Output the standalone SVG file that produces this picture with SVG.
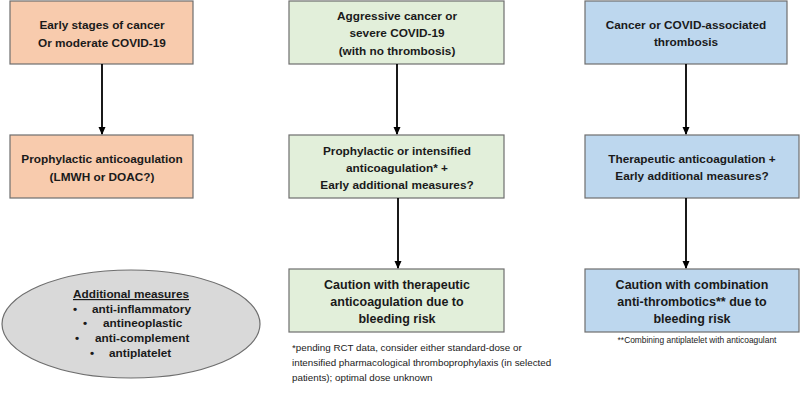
<svg xmlns="http://www.w3.org/2000/svg" width="800" height="406" viewBox="0 0 800 406">
<defs>
<marker id="ah" markerWidth="8" markerHeight="8" refX="7" refY="4" orient="auto" markerUnits="userSpaceOnUse">
<path d="M0,0.5 L8,4 L0,7.5 z" fill="#000"/>
</marker>
<style>
.box{stroke:#6e6e6e;stroke-width:1.2}
.or{fill:#F8CBAD}.gr{fill:#E2EFDA}.bl{fill:#BDD7EE}
.t{font-family:"Liberation Sans",Arial,sans-serif;font-weight:bold;font-size:11.8px;fill:#1a1a1a;text-anchor:middle}
.tb{font-size:12.5px}
.f{font-family:"Liberation Sans",Arial,sans-serif;font-size:9.8px;fill:#1a1a1a}
.c{stroke:#000;stroke-width:1.8;fill:none}
</style>
</defs>
<rect width="800" height="406" fill="#fff"/>
<g id="n1"><rect class="box or" x="10" y="1" width="183" height="63"/>
<text class="t" x="102" y="29">Early stages of cancer</text><text class="t" x="102" y="47">Or moderate COVID-19</text></g>
<g id="n2"><rect class="box or" x="10" y="135" width="183" height="63"/>
<text class="t" x="102" y="163">Prophylactic anticoagulation</text><text class="t" x="102" y="181">(LMWH or DOAC?)</text></g>
<g id="n3"><rect class="box gr" x="289" y="1" width="215" height="63"/>
<text class="t" x="397" y="20">Aggressive cancer or</text><text class="t" x="397" y="37">severe COVID-19</text><text class="t" x="397" y="55">(with no thrombosis)</text></g>
<g id="n4"><rect class="box gr" x="289" y="135" width="215" height="63"/>
<text class="t" x="397" y="155">Prophylactic or intensified</text><text class="t" x="397" y="172">anticoagulation*  +</text><text class="t" x="397" y="189">Early additional  measures?</text></g>
<g id="n5"><rect class="box gr" x="289" y="269" width="215" height="63"/>
<text class="t tb" x="397" y="289">Caution  with therapeutic</text><text class="t tb" x="397" y="306">anticoagulation  due to</text><text class="t tb" x="397" y="323">bleeding risk</text></g>
<g id="n6"><rect class="box bl" x="585" y="1" width="202" height="63"/>
<text class="t" x="686" y="29">Cancer or COVID-associated</text><text class="t" x="686" y="46">thrombosis</text></g>
<g id="n7"><rect class="box bl" x="585" y="135" width="214" height="63"/>
<text class="t" x="692" y="163">Therapeutic anticoagulation  +</text><text class="t" x="692" y="180">Early additional  measures?</text></g>
<g id="n8"><rect class="box bl" x="585" y="269" width="214" height="63"/>
<text class="t tb" x="692" y="289">Caution  with combination</text><text class="t tb" x="692" y="306">anti-thrombotics**  due to</text><text class="t tb" x="692" y="323">bleeding risk</text></g>
<g id="n9"><ellipse cx="131" cy="324" rx="129" ry="54" fill="#D9D9D9" stroke="#6e6e6e" stroke-width="1.2"/>
<text class="t" x="131" y="298" text-decoration="underline">Additional measures</text>
<text class="t" x="75" y="313">•</text><text class="t" x="92" y="313" style="text-anchor:start">anti-inflammatory</text>
<text class="t" x="85" y="327">•</text><text class="t" x="103" y="327" style="text-anchor:start">antineoplastic</text>
<text class="t" x="77" y="342">•</text><text class="t" x="95" y="342" style="text-anchor:start">anti-complement</text>
<text class="t" x="92" y="357">•</text><text class="t" x="109" y="357" style="text-anchor:start">antiplatelet</text></g>
<g id="notes">
<text class="f" x="697" y="343" style="text-anchor:middle;font-size:8.4px">**Combining antiplatelet with anticoagulant</text>
<text class="f" x="292" y="351">*pending RCT data, consider either  standard-dose or</text>
<text class="f" x="292" y="366">intensified pharmacological thromboprophylaxis  (in selected</text>
<text class="f" x="292" y="381">patients); optimal dose unknown</text>
</g>
<g id="connectors">
<line class="c" x1="102" y1="64" x2="102" y2="134" marker-end="url(#ah)"/>
<line class="c" x1="397" y1="64" x2="397" y2="134" marker-end="url(#ah)"/>
<line class="c" x1="398" y1="198" x2="398" y2="268" marker-end="url(#ah)"/>
<line class="c" x1="686" y1="64" x2="686" y2="134" marker-end="url(#ah)"/>
<line class="c" x1="686" y1="198" x2="686" y2="268" marker-end="url(#ah)"/>
</g>
</svg>
